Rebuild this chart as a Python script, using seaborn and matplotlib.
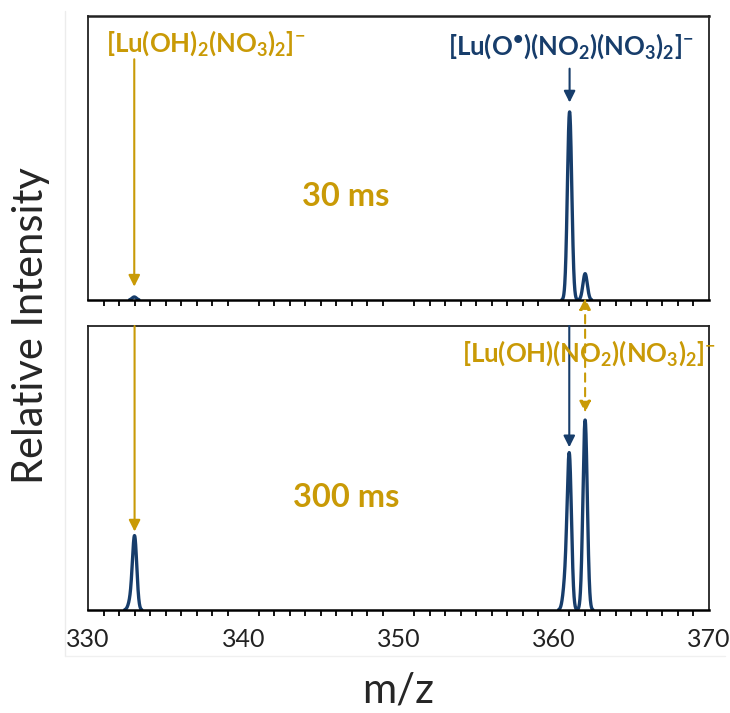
import numpy as np
import pandas as pd
import matplotlib
matplotlib.use("Agg")
import matplotlib.pyplot as plt
from matplotlib.lines import Line2D
from matplotlib.patches import ConnectionPatch
from matplotlib.ticker import MultipleLocator
import seaborn as sns

# Peak centres (m/z) and heights (arb. units) for each reaction time
peaks_30ms_mz = [332.98, 361.02, 362.02]
peaks_30ms_int = [1.6, 100.0, 14.0]
peaks_300ms_mz = [332.72, 333.0, 360.72, 361.0, 362.02]
peaks_300ms_int = [4.0, 39.0, 12.0, 82.0, 101.0]
peak_width = 0.14  # Gaussian sigma of the instrument line shape

panel_labels = ["30 ms", "300 ms"]
ion_a = r"$\mathrm{[Lu(OH)_2(NO_3)_2]^{-}}$"
ion_b = r"$\mathrm{[Lu(O^{•})(NO_2)(NO_3)_2]^{-}}$"
ion_c = r"$\mathrm{[Lu(OH)(NO_2)(NO_3)_2]^{-}}$"
xticks = [330, 340, 350, 360, 370]

navy = "#173D6B"
gold = "#C99A06"

sns.set_style("white")
plt.rcParams["font.family"] = ["Lato", "DejaVu Sans"]
plt.rcParams["mathtext.fontset"] = "custom"
plt.rcParams["mathtext.rm"] = "Lato:bold"
plt.rcParams["mathtext.it"] = "Lato:bold"
plt.rcParams["mathtext.bf"] = "Lato:bold"


def spectrum(centres, heights):
    mz = np.linspace(330, 370, 8001)
    y = np.zeros_like(mz)
    for c, h in zip(centres, heights):
        y += h * np.exp(-0.5 * ((mz - c) / peak_width) ** 2)
    keep = y > 0.15
    seg = np.cumsum(np.r_[1, np.diff(keep.astype(int)) != 0])
    df = pd.DataFrame({"mz": mz, "intensity": y, "segment": seg})
    return df[keep]


fig = plt.figure(figsize=(7.3, 7.13), dpi=100)

# faint outer frame around the plotting area
fig.add_artist(Line2D([65 / 730, 65 / 730], [1 - 11 / 713, 1 - 656 / 713],
                      color="#ececec", lw=1))
fig.add_artist(Line2D([65 / 730, 725 / 730], [1 - 656 / 713, 1 - 656 / 713],
                      color="#f0f0f0", lw=1))

ax_top = fig.add_axes([88 / 730, 1 - 300 / 713, 621 / 730, 284 / 713])
ax_bot = fig.add_axes([88 / 730, 1 - 610 / 713, 621 / 730, 284 / 713])

ymax = 151
for ax, (c, h) in zip([ax_top, ax_bot],
                      [(peaks_30ms_mz, peaks_30ms_int),
                       (peaks_300ms_mz, peaks_300ms_int)]):
    df = spectrum(c, h)
    sns.lineplot(data=df, x="mz", y="intensity", units="segment",
                 estimator=None, color=navy, lw=2.4, ax=ax, legend=False)
    ax.set_xlim(330, 370)
    ax.set_ylim(0, ymax)
    ax.set_xlabel("")
    ax.set_ylabel("")
    ax.set_yticks([])
    ax.xaxis.set_major_locator(MultipleLocator(10))
    ax.xaxis.set_minor_locator(MultipleLocator(1))
    ax.tick_params(axis="x", which="major", direction="inout", length=12,
                   width=1.3, color="black", labelsize=18, pad=7,
                   labelcolor="#222222")
    ax.tick_params(axis="x", which="minor", direction="out", length=4,
                   width=1.3, color="black", bottom=True)
    for side in ["top", "right", "left"]:
        ax.spines[side].set_color("#222222")
        ax.spines[side].set_linewidth(1.3)
    ax.spines["bottom"].set_color("black")
    ax.spines["bottom"].set_linewidth(1.8)

ax_top.spines["top"].set_linewidth(1.8)
ax_top.tick_params(axis="x", labelbottom=False)
ax_bot.set_xticks(xticks)
ax_bot.set_xticklabels([str(t) for t in xticks])
ax_bot.set_xlabel("m/z", fontsize=30, labelpad=15)
fig.text(31 / 730, 1 - 326 / 713, "Relative Intensity", rotation=90,
         ha="center", va="center", fontsize=30)

arrow_kw = dict(arrowstyle="-|>", lw=1.5, mutation_scale=17,
                shrinkA=0, shrinkB=0)

# 30 ms panel
ax_top.text(337.55, 136.5, ion_a, color=gold, fontsize=18.5, ha="center",
            va="center")
ax_top.annotate("", xy=(peaks_30ms_mz[0], peaks_30ms_int[0] + 5.5),
                xytext=(peaks_30ms_mz[0], 128),
                arrowprops=dict(color=gold, **arrow_kw))
ax_top.text(361.1, 135, ion_b, color=navy, fontsize=18.5, ha="center",
            va="center")
ax_top.annotate("", xy=(peaks_30ms_mz[1], peaks_30ms_int[1] + 5),
                xytext=(peaks_30ms_mz[1], 123),
                arrowprops=dict(color=navy, **arrow_kw))
ax_top.text(346.6, 55, panel_labels[0], color=gold, fontsize=23.5,
            fontweight="bold", ha="center", va="center")

# 300 ms panel
ax_bot.annotate("", xy=(peaks_300ms_mz[1], peaks_300ms_int[1] + 2.7),
                xytext=(peaks_300ms_mz[1], ymax),
                arrowprops=dict(color=gold, **arrow_kw))
ax_bot.annotate("", xy=(peaks_300ms_mz[3], peaks_300ms_int[3] + 4.5),
                xytext=(peaks_300ms_mz[3], ymax),
                arrowprops=dict(color=navy, **arrow_kw))
ax_bot.text(362.3, 136.5, ion_c, color=gold, fontsize=18.5, ha="center",
            va="center", zorder=5)
ax_bot.text(346.6, 60, panel_labels[1], color=gold, fontsize=23.5,
            fontweight="bold", ha="center", va="center")

# dashed link between the two 362 peaks
con = ConnectionPatch(xyA=(peaks_300ms_mz[4], 1), coordsA=ax_top.transData,
                      xyB=(peaks_300ms_mz[4], peaks_300ms_int[4] + 4),
                      coordsB=ax_bot.transData,
                      arrowstyle="<|-|>", color=gold, lw=1.5, ls=(0, (4, 3)),
                      mutation_scale=17, shrinkA=0, shrinkB=0, zorder=6)
fig.add_artist(con)

fig.savefig("out.png", dpi=100)
